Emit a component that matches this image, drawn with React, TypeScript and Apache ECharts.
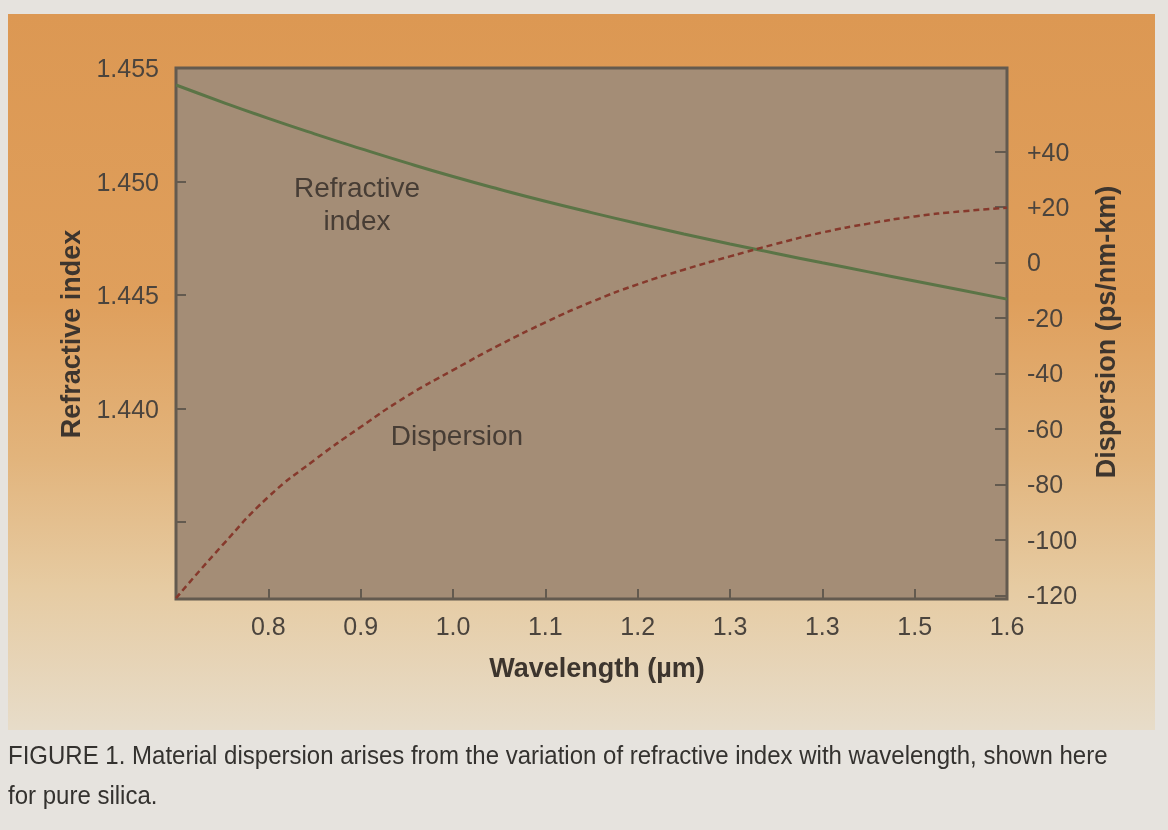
import { useEffect, useRef } from "react";
import * as echarts from "echarts";

// Wavelength samples (µm) with the refractive index of pure silica and its material dispersion
const wavelength = [0.7, 0.75, 0.8, 0.85, 0.9, 0.95, 1.0, 1.05, 1.1, 1.15, 1.2, 1.25, 1.3, 1.35, 1.4, 1.45, 1.5, 1.55, 1.6];
const refractiveIndex = [
  1.45425, 1.4535, 1.45278, 1.4521, 1.45145, 1.45082, 1.45022, 1.44966, 1.44913, 1.44863,
  1.44815, 1.44769, 1.44725, 1.44683, 1.44642, 1.44602, 1.44562, 1.44522, 1.44482,
];
const dispersion = [
  -121, -102, -84.5, -71.2, -59.3, -48.2, -38.8, -29.8, -21.6, -14.2,
  -7.9, -2.6, 2.2, 6.7, 10.8, 14.0, 16.6, 18.4, 19.7,
];

// Axis ticks and their printed labels
const wavelengthTicks = [0.8, 0.9, 1.0, 1.1, 1.2, 1.3, 1.4, 1.5, 1.6];
const wavelengthTickLabels = ["0.8", "0.9", "1.0", "1.1", "1.2", "1.3", "1.3", "1.5", "1.6"];
const indexTicks = [1.455, 1.45, 1.445, 1.44, 1.435];
const indexTickLabels = ["1.455", "1.450", "1.445", "1.440"];
const dispersionTicks = [-120, -100, -80, -60, -40, -20, 0, 20, 40];
const dispersionTickLabels = ["-120", "-100", "-80", "-60", "-40", "-20", "0", "+20", "+40"];

const captionLines = [
  "FIGURE 1. Material dispersion arises from the variation of refractive index with wavelength, shown here",
  "for pure silica.",
];

const FONT = "'Liberation Sans', Arial, Helvetica, sans-serif";
const TICK_COLOR = "#4b443d";
const TITLE_COLOR = "#3d352e";
const FRAME_COLOR = "#635a4f";

const labelFor = (values: number[], labels: string[]) => (v: number) => {
  const i = values.findIndex((t) => Math.abs(t - v) < 1e-9);
  return i >= 0 && i < labels.length ? labels[i] : "";
};

const measureText = (text: string, font: string) => {
  const ctx = document.createElement("canvas").getContext("2d");
  if (!ctx) return text.length * 12;
  ctx.font = font;
  return ctx.measureText(text).width;
};

export default function App() {
  const ref = useRef<HTMLDivElement>(null);

  useEffect(() => {
    if (!ref.current) return;
    const chart = echarts.init(ref.current, undefined, { renderer: "svg" });

    const captionSize = 25;
    const captionScale = 1100 / measureText(captionLines[0], `${captionSize}px 'Liberation Sans'`);

    const tickStyle = { color: FRAME_COLOR, width: 2 };

    chart.setOption({
      animation: false,
      grid: {
        left: 176,
        right: 161,
        top: 68,
        bottom: 231,
        show: true,
        backgroundColor: "#a48d76",
        borderColor: FRAME_COLOR,
        borderWidth: 3,
      },
      xAxis: {
        type: "value",
        min: 0.7,
        max: 1.6,
        axisLine: { show: false, onZero: false },
        splitLine: { show: false },
        axisTick: {
          inside: true,
          length: 10,
          lineStyle: tickStyle,
          customValues: wavelengthTicks.slice(0, -1),
        },
        axisLabel: {
          customValues: wavelengthTicks,
          formatter: labelFor(wavelengthTicks, wavelengthTickLabels),
          fontFamily: FONT,
          fontSize: 25,
          color: TICK_COLOR,
          margin: 14,
        },
      },
      yAxis: [
        {
          type: "value",
          position: "left",
          min: 1.43161,
          max: 1.455,
          axisLine: { show: false, onZero: false },
          splitLine: { show: false },
          axisTick: { inside: true, length: 10, lineStyle: tickStyle, customValues: indexTicks },
          axisLabel: {
            customValues: indexTicks.slice(0, indexTickLabels.length),
            formatter: labelFor(indexTicks, indexTickLabels),
            fontFamily: FONT,
            fontSize: 25,
            color: TICK_COLOR,
            margin: 17,
          },
        },
        {
          type: "value",
          position: "right",
          min: -121.3,
          max: 70.1,
          axisLine: { show: false, onZero: false },
          splitLine: { show: false },
          axisTick: { inside: true, length: 12, lineStyle: tickStyle, customValues: dispersionTicks },
          axisLabel: {
            customValues: dispersionTicks,
            formatter: labelFor(dispersionTicks, dispersionTickLabels),
            fontFamily: FONT,
            fontSize: 25,
            color: TICK_COLOR,
            margin: 20,
          },
        },
      ],
      series: [
        {
          name: "Refractive index",
          type: "line",
          yAxisIndex: 0,
          data: wavelength.map((w, i) => [w, refractiveIndex[i]]),
          smooth: true,
          showSymbol: false,
          symbol: "none",
          lineStyle: { color: "#5b7446", width: 3 },
          z: 3,
        },
        {
          name: "Dispersion",
          type: "line",
          yAxisIndex: 1,
          data: wavelength.map((w, i) => [w, dispersion[i]]),
          smooth: true,
          showSymbol: false,
          symbol: "none",
          lineStyle: { color: "#86392c", width: 2.5, type: [6, 4] },
          z: 4,
        },
      ],
      graphic: {
        elements: [
          {
            type: "rect",
            z: -20,
            silent: true,
            shape: { x: 0, y: 0, width: 1168, height: 830 },
            style: { fill: "#e6e3de" },
          },
          {
            type: "rect",
            z: -19,
            silent: true,
            shape: { x: 8, y: 14, width: 1147, height: 716 },
            style: {
              fill: new echarts.graphic.LinearGradient(0, 0, 0, 1, [
                { offset: 0, color: "#dc9853" },
                { offset: 0.4, color: "#df9f5c" },
                { offset: 0.62, color: "#e2b47c" },
                { offset: 0.8, color: "#e6cba2" },
                { offset: 1, color: "#e7dcc9" },
              ]),
            },
          },
          {
            type: "text",
            z: 10,
            x: 71,
            y: 334,
            rotation: Math.PI / 2,
            style: {
              text: "Refractive index",
              fontFamily: FONT,
              fontWeight: "bold",
              fontSize: 27,
              fill: TITLE_COLOR,
              align: "center",
              verticalAlign: "middle",
            },
          },
          {
            type: "text",
            z: 10,
            x: 1106,
            y: 332,
            rotation: Math.PI / 2,
            style: {
              text: "Dispersion (ps/nm-km)",
              fontFamily: FONT,
              fontWeight: "bold",
              fontSize: 27,
              fill: TITLE_COLOR,
              align: "center",
              verticalAlign: "middle",
            },
          },
          {
            type: "text",
            z: 10,
            x: 597,
            y: 668,
            style: {
              text: "Wavelength (\u00b5m)",
              fontFamily: FONT,
              fontWeight: "bold",
              fontSize: 27,
              fill: TITLE_COLOR,
              align: "center",
              verticalAlign: "middle",
            },
          },
          {
            type: "text",
            z: 10,
            x: 357,
            y: 204,
            style: {
              text: "Refractive\nindex",
              fontFamily: FONT,
              fontSize: 28,
              lineHeight: 33,
              fill: "#473d35",
              align: "center",
              verticalAlign: "middle",
            },
          },
          {
            type: "text",
            z: 10,
            x: 457,
            y: 435,
            style: {
              text: "Dispersion",
              fontFamily: FONT,
              fontSize: 28,
              fill: "#473d35",
              align: "center",
              verticalAlign: "middle",
            },
          },
          ...captionLines.map((line, i) => ({
            type: "text",
            z: 10,
            x: 8,
            y: 755 + i * 40,
            scaleX: captionScale,
            style: {
              text: line,
              fontFamily: FONT,
              fontSize: captionSize,
              fill: "#34322f",
              align: "left",
              verticalAlign: "middle",
            },
          })),
        ],
      },
    });

    return () => chart.dispose();
  }, []);

  return (
    <div
      ref={ref}
      style={{ position: "fixed", left: 0, top: 0, width: 1168, height: 830 }}
    />
  );
}
